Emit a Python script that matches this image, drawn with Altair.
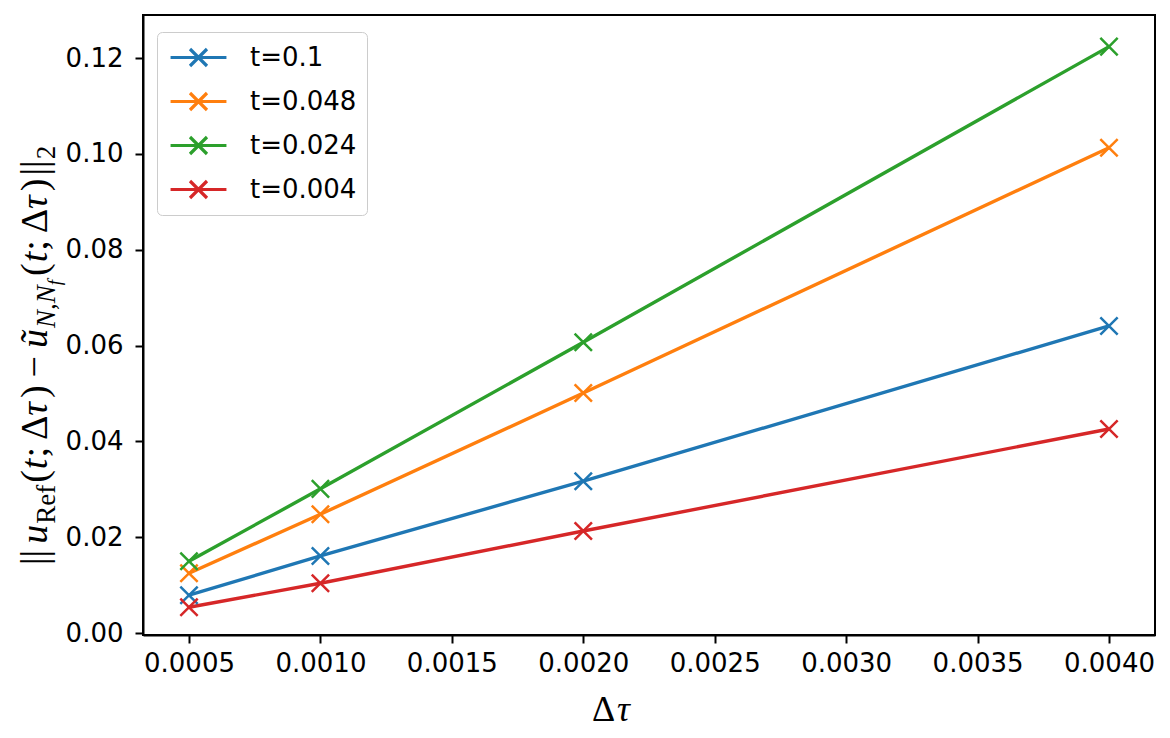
import altair as alt
import pandas as pd

# ---------------- data ----------------
dtau = [0.0005, 0.0010, 0.0020, 0.0040]
series_names = ["t=0.1", "t=0.048", "t=0.024", "t=0.004"]
err_t01 = [0.0079, 0.0161, 0.0317, 0.0641]
err_t0048 = [0.0125, 0.0248, 0.0501, 0.1013]
err_t0024 = [0.0150, 0.0301, 0.0607, 0.1224]
err_t0004 = [0.0054, 0.0104, 0.0213, 0.0426]
colors = ["#1f77b4", "#ff7f0e", "#2ca02c", "#d62728"]
x_ticks = [0.0005, 0.0010, 0.0015, 0.0020, 0.0025, 0.0030, 0.0035, 0.0040]
y_ticks = [0.00, 0.02, 0.04, 0.06, 0.08, 0.10, 0.12]

rows = []
for name, vals in zip(series_names, [err_t01, err_t0048, err_t0024, err_t0004]):
    for d, v in zip(dtau, vals):
        rows.append({"dtau": d, "err": v, "series": name})
df = pd.DataFrame(rows)

W, H = 1012, 620
TICK_FONT = 26

xscale = alt.Scale(domain=[0.000325, 0.004175], nice=False, zero=False)
yscale = alt.Scale(domain=[-0.0004, 0.129], nice=False, zero=False)
cscale = alt.Scale(domain=series_names, range=colors)

legend = alt.Legend(
    title=None,
    orient="none",
    legendX=14,
    legendY=17,
    symbolType="M-2.07,0L2.07,0M-0.63,-0.63L0.63,0.63M-0.63,0.63L0.63,-0.63",
    symbolSize=729,
    symbolStrokeWidth=3.2,
    symbolFillColor="transparent",
    symbolOffset=16,
    labelOffset=36,
    labelFontSize=TICK_FONT,
    labelFont="DejaVu Sans",
    labelColor="black",
    rowPadding=13,
    padding=10,
    strokeColor="#cccccc",
    fillColor="rgba(255,255,255,0.8)",
    cornerRadius=5,
)

axis_common = dict(grid=False, title=None, labelFontSize=TICK_FONT, labelFont="DejaVu Sans",
                   labelColor="black", tickColor="black", tickWidth=2, tickSize=8,
                   domainColor="black", domainWidth=2, labelFlush=False)

base = alt.Chart(df).encode(
    x=alt.X("dtau:Q", scale=xscale,
            axis=alt.Axis(values=x_ticks, format=".4f", labelPadding=7, **axis_common)),
    y=alt.Y("err:Q", scale=yscale,
            axis=alt.Axis(values=y_ticks, format=".2f", labelPadding=12, **axis_common)),
    color=alt.Color("series:N", scale=cscale, sort=series_names, legend=legend),
)

lines = base.mark_line(strokeWidth=3.4)
points = base.mark_point(shape="M-1,-1L1,1M-1,1L1,-1", size=300, filled=False,
                         strokeWidth=2.5, opacity=1)

one = pd.DataFrame({"k": [0]})

# plot frame (top and right spines)
frame = alt.Chart(one).mark_rect(fill=None, stroke="black", strokeWidth=2).encode(
    x=alt.value(0), x2=alt.value(W), y=alt.value(0), y2=alt.value(H)
)

# ---------------- axis titles as text (mathtext imitation) ----------------
M, S, F = 38, 27, 19
BASE_X = -96
segments = [
    # text, size, style, x shift (subscript), advance in px, extra gap after
    ("||", M, "normal", 0, 0.4 * M, 6),
    ("u", M, "italic", 0, 0.5 * M, 1),
    ("Ref", S, "normal", 8, 1.444 * S, 2),
    ("(", M, "normal", 0, 0.333 * M, 1),
    ("t", M, "italic", 0, 0.278 * M, 1),
    (";", M, "normal", 0, 0.278 * M, 7),
    ("Δ", M, "normal", 0, 0.612 * M, 1),
    ("τ", M, "italic", 0, 0.44 * M, 1),
    (")", M, "normal", 0, 0.333 * M, 8),
    ("−", M, "normal", 0, 0.564 * M, 8),
    ("ũ", M, "italic", 0, 0.5 * M, 1),
    ("N,N", S, "italic", 8, 1.584 * S, 0),
    ("f", F, "italic", 14, 0.278 * F, 4),
    ("(", M, "normal", 0, 0.333 * M, 1),
    ("t", M, "italic", 0, 0.278 * M, 1),
    (";", M, "normal", 0, 0.278 * M, 7),
    ("Δ", M, "normal", 0, 0.612 * M, 1),
    ("τ", M, "italic", 0, 0.44 * M, 1),
    (")", M, "normal", 0, 0.333 * M, 3),
    ("||", M, "normal", 0, 0.4 * M, 1),
    ("2", S, "normal", 8, 0.5 * S, 0),
]

title_layers = []
ypos = 565 - 15
for text, size, style, xs, adv, gap in segments:
    title_layers.append(
        alt.Chart(one).mark_text(
            angle=270, align="left", baseline="alphabetic", font="Liberation Serif",
            fontSize=size, fontStyle=style, color="black",
        ).encode(x=alt.value(BASE_X + xs), y=alt.value(ypos), text=alt.value(text))
    )
    ypos -= adv + gap

xt_y = 721 - 15
title_layers.append(
    alt.Chart(one).mark_text(align="left", baseline="alphabetic", font="Liberation Serif",
                             fontSize=36, color="black")
    .encode(x=alt.value(592 - 143), y=alt.value(xt_y), text=alt.value("Δ"))
)
title_layers.append(
    alt.Chart(one).mark_text(align="left", baseline="alphabetic", font="Liberation Serif",
                             fontSize=36, fontStyle="italic", color="black")
    .encode(x=alt.value(592 - 143 + 25), y=alt.value(xt_y), text=alt.value("τ"))
)

chart = alt.layer(lines, points, frame, *title_layers).properties(
    width=W, height=H,
    autosize=alt.AutoSizeParams(type="none"),
    padding={"left": 135, "top": 7, "right": 7, "bottom": 95},
).configure_view(stroke="black", strokeWidth=2).configure(background="white")

chart.save("out.html", embed_options={"renderer": "svg", "actions": False})
